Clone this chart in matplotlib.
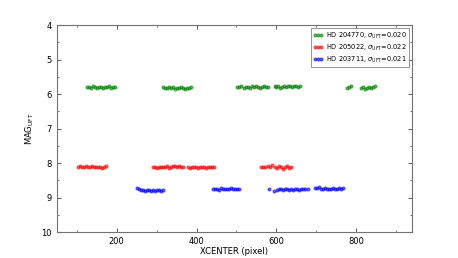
import matplotlib
matplotlib.use('Agg')
import matplotlib.pyplot as plt
from matplotlib.ticker import MultipleLocator

# HD 204770 (green)
g_x = [125, 130, 135, 140, 145, 150, 155, 160, 165, 170, 175, 180, 185, 190, 196,
       315, 320, 325, 330, 335, 340, 345, 350, 355, 360, 365, 370, 375, 380, 385,
       502, 507, 512, 518, 523, 528, 533, 538, 543, 548, 553, 558, 563, 568, 573, 578,
       596, 600, 605, 610, 615, 620, 625, 630, 635, 640, 645, 650, 655, 660,
       776, 781, 786, 812, 817, 822, 827, 832, 837, 842, 847]
g_mag = [5.80, 5.79, 5.81, 5.78, 5.80, 5.82, 5.79, 5.80, 5.81, 5.79, 5.80, 5.78, 5.81, 5.80, 5.79,
         5.79, 5.81, 5.83, 5.80, 5.82, 5.80, 5.84, 5.81, 5.83, 5.80, 5.82, 5.84, 5.81, 5.83, 5.80,
         5.79, 5.80, 5.78, 5.81, 5.79, 5.80, 5.82, 5.78, 5.80, 5.76, 5.79, 5.81, 5.80, 5.77, 5.80, 5.79,
         5.77, 5.80, 5.78, 5.81, 5.79, 5.77, 5.80, 5.78, 5.76, 5.79, 5.77, 5.78, 5.79, 5.77,
         5.83, 5.80, 5.78, 5.82, 5.80, 5.84, 5.81, 5.79, 5.82, 5.80, 5.77]

# HD 205022 (red)
r_x = [102, 107, 112, 117, 122, 127, 132, 137, 142, 147, 152, 157, 162, 167, 172,
       290, 295, 300, 305, 310, 315, 320, 325, 330, 335, 340, 345, 350, 355, 360, 365,
       379, 384, 389, 394, 399, 404, 409, 414, 419, 424, 429, 434, 439, 444,
       562, 567, 572, 580, 585, 590, 597, 602, 607, 612, 617, 622, 627, 632, 636]
r_mag = [8.10, 8.09, 8.11, 8.10, 8.08, 8.10, 8.11, 8.09, 8.10, 8.12, 8.11, 8.10, 8.14, 8.12, 8.09,
         8.12, 8.10, 8.13, 8.11, 8.12, 8.10, 8.11, 8.08, 8.13, 8.10, 8.07, 8.09, 8.11, 8.08, 8.12, 8.10,
         8.11, 8.13, 8.10, 8.12, 8.11, 8.13, 8.10, 8.12, 8.11, 8.13, 8.10, 8.12, 8.11, 8.10,
         8.10, 8.12, 8.10, 8.08, 8.12, 8.05, 8.10, 8.13, 8.07, 8.12, 8.16, 8.11, 8.09, 8.13, 8.10]

# HD 203711 (blue)
b_x = [252, 256, 261, 266, 271, 276, 281, 286, 291, 296, 301, 306, 311, 316,
       442, 447, 452, 457, 462, 467, 472, 477, 482, 487, 492, 497, 502, 507,
       581, 594,
       602, 607, 612, 617, 622, 627, 632, 637, 642, 647, 652, 657, 662, 667, 672, 678,
       696, 701, 706, 711, 716, 721, 726, 731, 736, 741, 746, 751, 756, 761, 766]
b_mag = [8.72, 8.76, 8.79, 8.78, 8.80, 8.79, 8.78, 8.80, 8.79, 8.80, 8.78, 8.79, 8.80, 8.78,
         8.76, 8.74, 8.75, 8.77, 8.73, 8.75, 8.74, 8.76, 8.74, 8.73, 8.75, 8.74, 8.76, 8.75,
         8.76, 8.80,
         8.78, 8.76, 8.75, 8.78, 8.76, 8.74, 8.77, 8.75, 8.78, 8.76, 8.74, 8.77, 8.75, 8.76, 8.74, 8.75,
         8.71, 8.73, 8.70, 8.74, 8.76, 8.73, 8.75, 8.74, 8.76, 8.73, 8.75, 8.74, 8.73, 8.75, 8.72]

labels = [r'HD 204770, $\sigma_{\rm UFT}$=0.020',
          r'HD 205022, $\sigma_{\rm UFT}$=0.022',
          r'HD 203711, $\sigma_{\rm UFT}$=0.021']

fig = plt.figure(figsize=(4.58, 2.58), dpi=100)
ax = fig.add_axes([0.124, 0.10, 0.776, 0.803])

ax.plot(g_x, g_mag, 'o', color='g', mec='g', ms=2.0, alpha=0.55, label=labels[0])
ax.plot(r_x, r_mag, 'o', color='r', mec='r', ms=2.0, alpha=0.55, label=labels[1])
ax.plot(b_x, b_mag, 'o', color='b', mec='b', ms=2.0, alpha=0.55, label=labels[2])

ax.set_xlim(50, 940)
ax.set_ylim(10, 4)
ax.xaxis.set_major_locator(MultipleLocator(200))
ax.xaxis.set_minor_locator(MultipleLocator(100))
ax.yaxis.set_major_locator(MultipleLocator(1))
ax.yaxis.set_minor_locator(MultipleLocator(0.5))
ax.tick_params(which='both', direction='in', top=True, right=True,
               labelsize=6, color='0.4')
ax.tick_params(which='major', length=3)
ax.tick_params(which='minor', length=1.5)
for s in ax.spines.values():
    s.set_color('0.45')
    s.set_linewidth(0.8)

ax.set_xlabel('XCENTER (pixel)', fontsize=6, labelpad=1)
ax.set_ylabel(r'MAG$_{\rm UFT}$', fontsize=6, labelpad=4)

leg = ax.legend(loc='upper right', fontsize=4.8, numpoints=3, handlelength=1.5,
                handletextpad=0.4, borderpad=0.3, labelspacing=0.3, fancybox=False)
leg.get_frame().set_edgecolor('0.4')
leg.get_frame().set_linewidth(0.6)

fig.savefig('out.png', dpi=100)
